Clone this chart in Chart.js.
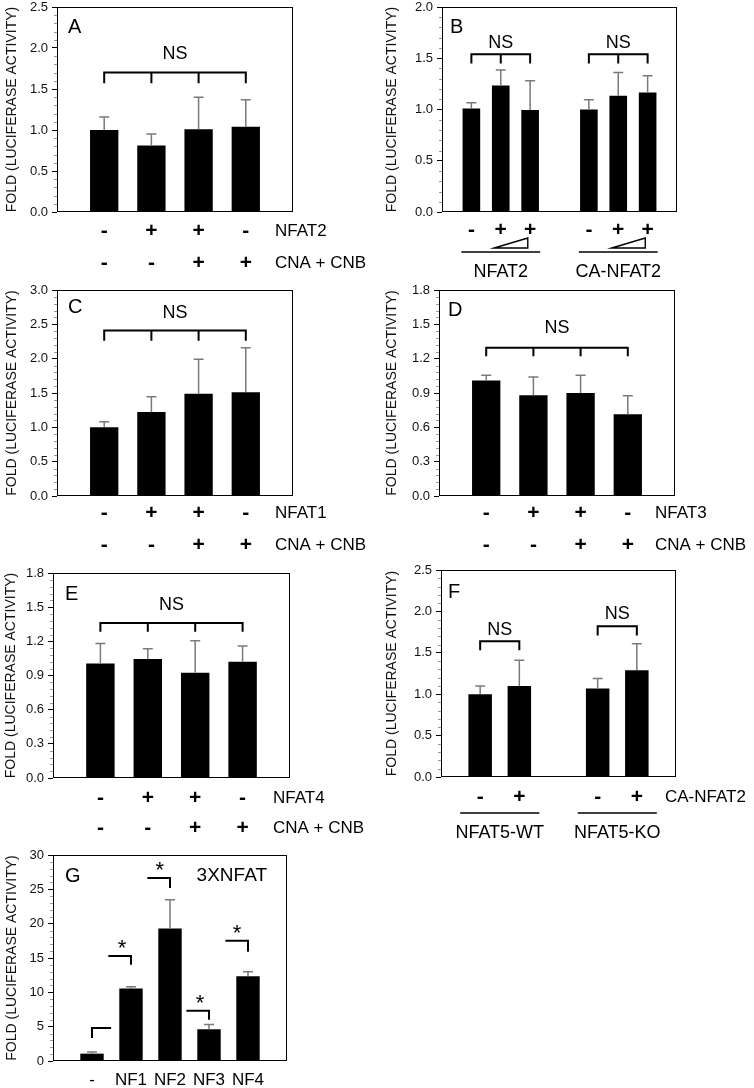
<!DOCTYPE html>
<html>
<head>
<meta charset="utf-8">
<script src="https://cdn.jsdelivr.net/npm/chart.js@4.4.1/dist/chart.umd.min.js"></script>
<style>
  body { margin: 0; background: #fff; width: 754px; height: 1088px; position: relative; overflow: hidden; }
  canvas { position: absolute; }
</style>
</head>
<body>
<canvas id="cA" width="377" height="290" style="left:0;top:0"></canvas>
<canvas id="cB" width="377" height="290" style="left:377px;top:0"></canvas>
<canvas id="cC" width="377" height="280" style="left:0;top:280px"></canvas>
<canvas id="cD" width="377" height="280" style="left:377px;top:280px"></canvas>
<canvas id="cE" width="377" height="300" style="left:0;top:540px"></canvas>
<canvas id="cF" width="377" height="310" style="left:377px;top:540px"></canvas>
<canvas id="cG" width="377" height="298" style="left:0;top:790px"></canvas>
<script>
// ---- data ----
// A: NFAT2 +/- CNA + CNB
const aNfat2 = ['-', '+', '+', '-'];
const aCnaCnb = ['-', '-', '+', '+'];
const aMeans = [1.00, 0.81, 1.01, 1.04];
const aSd = [0.16, 0.14, 0.39, 0.33];

// B: NFAT2 / CA-NFAT2 doses
const bSigns = ['-', '+', '+'];
const bGroups = ['NFAT2', 'CA-NFAT2'];
const bNfat2Means = [1.01, 1.235, 0.995];
const bNfat2Sd = [0.055, 0.15, 0.285];
const bCaMeans = [1.00, 1.135, 1.165];
const bCaSd = [0.095, 0.225, 0.165];

// C: NFAT1
const cNfat1 = ['-', '+', '+', '-'];
const cCnaCnb = ['-', '-', '+', '+'];
const cMeans = [1.00, 1.225, 1.49, 1.51];
const cSd = [0.08, 0.22, 0.50, 0.65];

// D: NFAT3
const dNfat3 = ['-', '+', '+', '-'];
const dCnaCnb = ['-', '-', '+', '+'];
const dMeans = [1.01, 0.88, 0.90, 0.715];
const dSd = [0.045, 0.16, 0.155, 0.16];

// E: NFAT4
const eNfat4 = ['-', '+', '+', '-'];
const eCnaCnb = ['-', '-', '+', '+'];
const eMeans = [1.005, 1.045, 0.925, 1.02];
const eSd = [0.175, 0.09, 0.28, 0.14];

// F: NFAT5-WT / NFAT5-KO cells
const fSigns = ['-', '+'];
const fGroups = ['NFAT5-WT', 'NFAT5-KO'];
const fWtMeans = [1.00, 1.10];
const fWtSd = [0.10, 0.31];
const fKoMeans = [1.07, 1.29];
const fKoSd = [0.12, 0.32];

// G: 3XNFAT reporter
const gLabels = ['-', 'NF1', 'NF2', 'NF3', 'NF4'];
const gMeans = [1.07, 10.55, 19.3, 4.62, 12.35];
const gSd = [0.24, 0.25, 4.2, 0.68, 0.65];

const FONT = '"Liberation Sans", Arial, Helvetica, sans-serif';
Chart.defaults.font.family = FONT;
Chart.defaults.color = '#111';

// error bars, minor ticks, frame, brackets and the label rows under the axis
const extras = {
  id: 'extras',
  afterDatasetsDraw(chart, args, o) {
    const ctx = chart.ctx, x = chart.scales.x, y = chart.scales.y, a = chart.chartArea;
    const data = chart.data.datasets[0].data;
    ctx.save();

    // minor ticks
    ctx.strokeStyle = '#999';
    ctx.lineWidth = 1;
    const minor = o.step / 5;
    for (let k = 0; k * minor <= o.yMax + 1e-9; k++) {
      if (k % 5 === 0) continue;
      const py = Math.round(y.getPixelForValue(k * minor)) + 0.5;
      ctx.beginPath(); ctx.moveTo(a.left - 3, py); ctx.lineTo(a.left, py); ctx.stroke();
    }

    // error bars (upper only)
    ctx.strokeStyle = '#7a7a7a';
    ctx.lineWidth = 1.5;
    chart.getDatasetMeta(0).data.forEach((bar, i) => {
      if (data[i] == null || o.sd[i] == null) return;
      const top = y.getPixelForValue(data[i] + o.sd[i]);
      ctx.beginPath();
      ctx.moveTo(bar.x, bar.y); ctx.lineTo(bar.x, top);
      ctx.moveTo(bar.x - 5, top); ctx.lineTo(bar.x + 5, top);
      ctx.stroke();
    });

    // frame
    ctx.strokeStyle = '#000';
    ctx.lineWidth = 1;
    ctx.strokeRect(a.left + 0.5, a.top + 0.5, a.right - a.left - 1, a.bottom - a.top - 1);

    // brackets
    ctx.lineWidth = 2;
    ctx.fillStyle = '#000';
    ctx.textAlign = 'center';
    ctx.textBaseline = 'middle';
    (o.brackets || []).forEach(b => {
      const py = y.getPixelForValue(b.y);
      ctx.beginPath();
      ctx.moveTo(x.getPixelForValue(b.x0), py);
      ctx.lineTo(x.getPixelForValue(b.x1), py);
      b.ticks.forEach(t => {
        const px = x.getPixelForValue(t);
        ctx.moveTo(px, py - 1);
        ctx.lineTo(px, y.getPixelForValue(b.drop));
      });
      ctx.stroke();
      if (b.label) {
        const star = b.label === '*';
        ctx.font = (star ? '22px ' : '18px ') + FONT;
        const lx = b.lx != null ? x.getPixelForValue(b.lx) : (x.getPixelForValue(b.x0) + x.getPixelForValue(b.x1)) / 2;
        ctx.fillText(b.label, lx, y.getPixelForValue(b.labelY) + (star ? 5 : 0));
      }
    });

    // panel letter and corner text
    ctx.font = '20px ' + FONT;
    ctx.textAlign = 'left';
    ctx.fillText(o.letter[0], a.left + o.letter[1], a.top + o.letter[2]);
    if (o.corner) {
      ctx.font = '19px ' + FONT;
      ctx.textAlign = 'right';
      ctx.fillText(o.corner[0], a.right + o.corner[1], a.top + o.corner[2]);
    }

    // rows of +/- under the bars
    const idx = [];
    data.forEach((v, i) => { if (v != null) idx.push(i); });
    (o.rows || []).forEach(r => {
      ctx.font = (r.bold === false ? '17px ' : 'bold 21px ') + FONT;
      ctx.textAlign = 'center';
      r.signs.forEach((s, k) => ctx.fillText(s, x.getPixelForValue(idx[k]), a.bottom + r.dy));
      if (r.label) {
        ctx.font = '17px ' + FONT;
        ctx.textAlign = 'left';
        ctx.fillText(r.label, a.right + o.rowLabelDx, a.bottom + r.dy);
      }
    });

    // dose wedges
    ctx.lineWidth = 1.4;
    (o.wedges || []).forEach(w => {
      const x0 = x.getPixelForValue(w.x0), x1 = x.getPixelForValue(w.x1);
      ctx.beginPath();
      ctx.moveTo(x0, a.bottom + 36);
      ctx.lineTo(x1, a.bottom + 26);
      ctx.lineTo(x1, a.bottom + 36);
      ctx.closePath();
      ctx.stroke();
    });

    // group underlines and names
    (o.groups || []).forEach(g => {
      const x0 = x.getPixelForValue(g.from) - o.groupExt, x1 = x.getPixelForValue(g.to) + o.groupExt;
      ctx.lineWidth = 1.5;
      ctx.beginPath();
      ctx.moveTo(x0, a.bottom + o.groupLine);
      ctx.lineTo(x1, a.bottom + o.groupLine);
      ctx.stroke();
      ctx.font = '18px ' + FONT;
      ctx.textAlign = 'center';
      ctx.fillText(g.label, (x.getPixelForValue(g.from) + x.getPixelForValue(g.to)) / 2, a.bottom + o.groupText);
    });
    ctx.restore();
  }
};

function panel(id, p) {
  const canvas = document.getElementById(id);
  const W = canvas.width, H = canvas.height;
  const labels = p.data.map((_, i) => String(i));
  new Chart(canvas, {
    type: 'bar',
    data: {
      labels: labels,
      datasets: [{
        data: p.data,
        backgroundColor: '#000',
        borderWidth: 0,
        barPercentage: 0.6,
        categoryPercentage: 1.0
      }]
    },
    options: {
      responsive: false,
      animation: false,
      devicePixelRatio: 1,
      layout: { padding: { left: 0, top: p.area[1], right: W - p.area[2], bottom: H - p.area[3] } },
      scales: {
        x: { type: 'category', display: false, offset: false },
        y: {
          min: 0,
          max: p.yMax,
          ticks: {
            stepSize: p.step,
            padding: 4,
            color: '#111',
            font: { size: 13 },
            callback: v => Number(v).toFixed(p.decimals)
          },
          grid: { drawOnChartArea: false, drawTicks: true, tickLength: 5, tickColor: '#000' },
          border: { display: false },
          title: {
            display: true,
            text: 'FOLD (LUCIFERASE ACTIVITY)',
            color: '#111',
            font: { size: 14 },
            padding: { top: p.titlePad, bottom: 0 }
          },
          afterFit: s => { s.width = p.area[0]; s.paddingTop = 0; s.paddingBottom = 0; }
        }
      },
      plugins: {
        legend: { display: false },
        tooltip: { enabled: false },
        extras: p
      }
    },
    plugins: [extras]
  });
}

const pad = arr => [null, ...arr, null];

panel('cA', {
  data: pad(aMeans), sd: pad(aSd), yMax: 2.5, step: 0.5, decimals: 1,
  area: [57, 7, 293, 212], titlePad: 4, letter: ['A', 11, 20],
  rows: [{ signs: aNfat2, dy: 19, label: 'NFAT2' }, { signs: aCnaCnb, dy: 51, label: 'CNA + CNB' }],
  rowLabelDx: -18,
  brackets: [{ x0: 1, x1: 4, y: 1.70, drop: 1.57, ticks: [1, 2, 3, 4], label: 'NS', labelY: 1.93 }]
});

panel('cB', {
  data: [null, ...bNfat2Means, null, ...bCaMeans, null],
  sd: [null, ...bNfat2Sd, null, ...bCaSd, null],
  yMax: 2.0, step: 0.5, decimals: 1,
  area: [65, 7, 300, 212], titlePad: 6.5, letter: ['B', 8, 20],
  rows: [{ signs: [...bSigns, ...bSigns], dy: 18 }],
  wedges: [{ x0: 1.78, x1: 2.92 }, { x0: 5.78, x1: 6.92 }],
  groups: [{ from: 1, to: 3, label: bGroups[0] }, { from: 5, to: 7, label: bGroups[1] }],
  groupExt: 10, groupLine: 40, groupText: 60,
  brackets: [
    { x0: 1, x1: 3, y: 1.54, drop: 1.45, ticks: [1, 2, 3], label: 'NS', labelY: 1.653 },
    { x0: 5, x1: 7, y: 1.54, drop: 1.45, ticks: [5, 6, 7], label: 'NS', labelY: 1.653 }
  ]
});

panel('cC', {
  data: pad(cMeans), sd: pad(cSd), yMax: 3.0, step: 0.5, decimals: 1,
  area: [57, 10, 293, 216], titlePad: 3.5, letter: ['C', 11, 17],
  rows: [{ signs: cNfat1, dy: 17, label: 'NFAT1' }, { signs: cCnaCnb, dy: 49, label: 'CNA + CNB' }],
  rowLabelDx: -18,
  brackets: [{ x0: 1, x1: 4, y: 2.41, drop: 2.26, ticks: [1, 2, 3, 4], label: 'NS', labelY: 2.66 }]
});

panel('cD', {
  data: pad(dMeans), sd: pad(dSd), yMax: 1.8, step: 0.3, decimals: 1,
  area: [62, 10, 298, 216], titlePad: 6.5, letter: ['D', 9, 20],
  rows: [{ signs: dNfat3, dy: 17, label: 'NFAT3' }, { signs: dCnaCnb, dy: 49, label: 'CNA + CNB' }],
  rowLabelDx: -20,
  brackets: [{ x0: 1, x1: 4, y: 1.295, drop: 1.222, ticks: [1, 2, 3, 4], label: 'NS', labelY: 1.464 }]
});

panel('cE', {
  data: pad(eMeans), sd: pad(eSd), yMax: 1.8, step: 0.3, decimals: 1,
  area: [53, 33, 290, 238], titlePad: 3, letter: ['E', 12, 21],
  rows: [{ signs: eNfat4, dy: 20, label: 'NFAT4' }, { signs: eCnaCnb, dy: 50, label: 'CNA + CNB' }],
  rowLabelDx: -17,
  brackets: [{ x0: 1, x1: 4, y: 1.362, drop: 1.284, ticks: [1, 2, 3, 4], label: 'NS', labelY: 1.517 }]
});

panel('cF', {
  data: [null, ...fWtMeans, null, ...fKoMeans, null],
  sd: [null, ...fWtSd, null, ...fKoSd, null],
  yMax: 2.5, step: 0.5, decimals: 1,
  area: [64, 30, 299, 237], titlePad: 6.5, letter: ['F', 7, 22],
  rows: [{ signs: [...fSigns, ...fSigns], dy: 20, label: 'CA-NFAT2' }],
  rowLabelDx: -11,
  groups: [{ from: 1, to: 2, label: fGroups[0] }, { from: 4, to: 5, label: fGroups[1] }],
  groupExt: 20, groupLine: 36, groupText: 56,
  brackets: [
    { x0: 1, x1: 2, y: 1.64, drop: 1.53, ticks: [1, 2], label: 'NS', labelY: 1.77 },
    { x0: 4, x1: 5, y: 1.82, drop: 1.71, ticks: [4, 5], label: 'NS', labelY: 1.97 }
  ]
});

panel('cG', {
  data: pad(gMeans), sd: pad(gSd), yMax: 30, step: 5, decimals: 0,
  area: [53, 65, 287, 271], titlePad: 3.5, letter: ['G', 12, 21],
  corner: ['3XNFAT', -20, 21],
  rows: [{ signs: gLabels, dy: 19, bold: false }],
  brackets: [
    { x0: 1, x1: 1.49, y: 4.8, drop: 3.35, ticks: [1] },
    { x0: 1.42, x1: 2, y: 15.3, drop: 14.0, ticks: [2], label: '*', labelY: 17.1, lx: 1.77 },
    { x0: 2.42, x1: 3, y: 26.65, drop: 25.2, ticks: [3], label: '*', labelY: 28.4, lx: 2.74 },
    { x0: 3.42, x1: 4, y: 7.3, drop: 6.0, ticks: [4], label: '*', labelY: 9.0, lx: 3.77 },
    { x0: 4.42, x1: 5, y: 17.5, drop: 15.9, ticks: [5], label: '*', labelY: 19.2, lx: 4.72 }
  ]
});
</script>
</body>
</html>
